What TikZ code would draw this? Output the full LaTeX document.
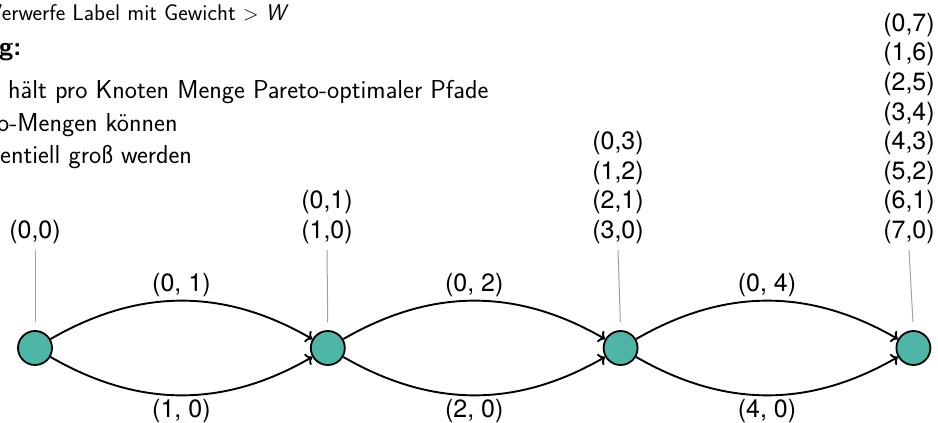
\documentclass[tikz,border=0pt]{standalone}
\usepackage{fontspec}
\setmainfont{TeX Gyre Heros}
\usepackage{tikz}
\usetikzlibrary{positioning,arrows.meta}
\definecolor{ParetoTeal}{HTML}{4DB6A6}
\definecolor{ParetoGray}{HTML}{A0A0A0}
\tikzset{
  vertex/.style={circle,draw=black,fill=ParetoTeal,line width=1.8pt,minimum size=34pt,inner sep=0pt},
  labelset/.style={align=center,inner sep=0pt,anchor=south},
  pinline/.style={draw=ParetoGray,line width=1pt,shorten >=8pt},
  pathedge/.style={-{To[length=6pt,width=13pt]},line width=1.9pt},
  slidetext/.style={anchor=base west,inner sep=0pt,font=\sffamily\fontsize{25.9}{32}\selectfont},
  subtext/.style={slidetext,font=\sffamily\fontsize{22.7}{28}\selectfont}
}

\begin{document}
\begin{tikzpicture}[x=1pt,y=-1pt,node distance=257pt,font=\fontsize{25}{29.6}\selectfont]
\useasboundingbox (0,0) rectangle (938,423);
\clip (0,0) rectangle (938,423);
% rest of the slide text, cut at the left edge
\node[subtext] (t1) at (-12,20) {Verwerfe Label mit Gewicht $>$ \textit{W}};
\node[slidetext] (t2) at (-1,56) {\textbf{g:}};
\node[slidetext] (t3) at (8,98) {hält pro Knoten Menge Pareto-optimaler Pfade};
\node[slidetext] (t4) at (-3,131) {o-Mengen können};
\node[slidetext] (t5) at (0,163) {entiell groß werden};
% path graph
\node[vertex] (v1) at (35,348) {};
\node[vertex,right=of v1] (v2) {};
\node[vertex,right=of v2] (v3) {};
\node[vertex,right=of v3] (v4) {};
% label sets
\node[labelset] (s1) at (35,244) {(0,0)};
\node[labelset] (s2) at (327,244) {(0,1)\\(1,0)};
\node[labelset] (s3) at (618,244) {(0,3)\\(1,2)\\(2,1)\\(3,0)};
\node[labelset] (s4) at (909,244) {(0,7)\\(1,6)\\(2,5)\\(3,4)\\(4,3)\\(5,2)\\(6,1)\\(7,0)};
\foreach \i in {1,...,4}
  \draw[pinline] ([yshift=-6pt]s\i.south) -- (v\i.north);
% parallel edges
\draw[pathedge,bend left=30] (v1) to node[above] {(0, 1)} (v2);
\draw[pathedge,bend right=30] (v1) to node[below] {(1, 0)} (v2);
\draw[pathedge,bend left=30] (v2) to node[above] {(0, 2)} (v3);
\draw[pathedge,bend right=30] (v2) to node[below] {(2, 0)} (v3);
\draw[pathedge,bend left=30] (v3) to node[above] {(0, 4)} (v4);
\draw[pathedge,bend right=30] (v3) to node[below] {(4, 0)} (v4);
\end{tikzpicture}
\end{document}
